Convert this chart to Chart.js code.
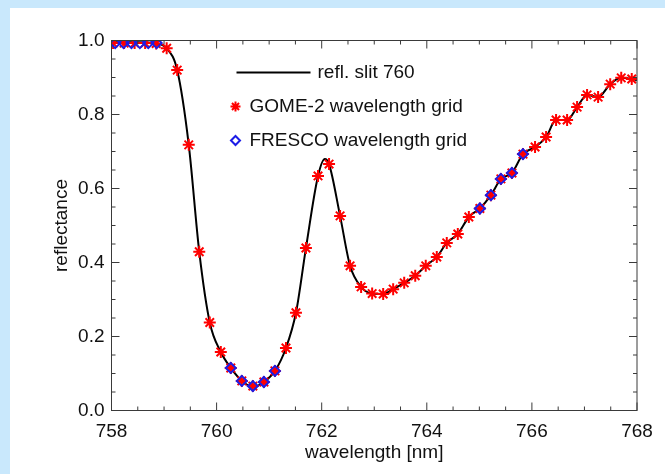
<!DOCTYPE html>
<html>
<head>
<meta charset="utf-8">
<script src="https://cdn.jsdelivr.net/npm/chart.js@4.4.1/dist/chart.umd.min.js"></script>
<style>
  html, body { margin: 0; padding: 0; background: #c9e8fc; width: 665px; height: 474px; overflow: hidden; }
  #panel { position: absolute; left: 10px; top: 8px; width: 655px; height: 466px; background: #fff; }
  canvas { display: block; }
</style>
</head>
<body>
<div id="panel"><canvas id="diagram" width="655" height="466"></canvas></div>
<script>
// GOME-2 wavelength grid (red stars)
const gomeWl = [758.03, 758.24, 758.44, 758.64, 758.85, 759.05, 759.25, 759.47, 759.67, 759.87,
    760.08, 760.27, 760.48, 760.69, 760.90, 761.11, 761.32, 761.51, 761.70, 761.93,
    762.14, 762.35, 762.54, 762.75, 762.96, 763.17, 763.36, 763.57, 763.78, 763.98,
    764.19, 764.38, 764.59, 764.80, 765.01, 765.22, 765.41, 765.62, 765.83, 766.06,
    766.27, 766.46, 766.67, 766.86, 767.05, 767.26, 767.49, 767.70, 767.90];
const gomeRefl = [0.993, 0.993, 0.993, 0.993, 0.992, 0.979, 0.920, 0.718, 0.429, 0.238,
    0.158, 0.115, 0.080, 0.066, 0.077, 0.107, 0.169, 0.264, 0.439, 0.634,
    0.666, 0.526, 0.391, 0.334, 0.316, 0.315, 0.328, 0.345, 0.364, 0.391,
    0.415, 0.453, 0.477, 0.523, 0.546, 0.582, 0.626, 0.642, 0.693, 0.712,
    0.739, 0.785, 0.785, 0.820, 0.853, 0.847, 0.882, 0.899, 0.896];

// FRESCO wavelength grid (blue diamonds)
const frescoWl = [758.07, 758.23, 758.38, 758.54, 758.70, 758.86,
    760.27, 760.48, 760.69, 760.90, 761.11,
    765.01, 765.22, 765.41, 765.62, 765.83];
const frescoRefl = [0.993, 0.993, 0.993, 0.993, 0.993, 0.993,
    0.115, 0.080, 0.066, 0.077, 0.107,
    0.546, 0.582, 0.626, 0.642, 0.693];

// refl. slit 760 (black line)
const slitWl = [758.00, 758.50, 758.85, 759.05, 759.25, 759.47, 759.67, 759.87, 760.08, 760.27,
    760.48, 760.70, 760.90, 761.11, 761.32, 761.51, 761.70, 761.93, 762.06, 762.14,
    762.35, 762.54, 762.75, 762.96, 763.17, 763.36, 763.57, 763.78, 763.98, 764.19,
    764.38, 764.59, 764.80, 765.01, 765.22, 765.41, 765.62, 765.83, 766.06, 766.27,
    766.46, 766.67, 766.86, 767.05, 767.26, 767.49, 767.70, 767.90, 768.00];
const slitRefl = [0.995, 0.995, 0.992, 0.979, 0.920, 0.718, 0.429, 0.238, 0.158, 0.115,
    0.080, 0.064, 0.077, 0.107, 0.169, 0.264, 0.439, 0.634, 0.680, 0.666,
    0.526, 0.391, 0.334, 0.316, 0.315, 0.328, 0.345, 0.364, 0.391, 0.415,
    0.453, 0.477, 0.523, 0.546, 0.582, 0.626, 0.642, 0.693, 0.712, 0.739,
    0.785, 0.785, 0.820, 0.853, 0.847, 0.882, 0.899, 0.896, 0.893];

const xTicks = [758, 760, 762, 764, 766, 768];
const yTicks = [0.0, 0.2, 0.4, 0.6, 0.8, 1.0];
const legendLabels = ['refl. slit 760', 'GOME-2 wavelength grid', 'FRESCO wavelength grid'];

const FONT = "'Liberation Sans', Arial, Helvetica, sans-serif";
const RED = '#ff0000';
const BLUE = '#1c1ce6';

function toPoints(xs, ys) {
    return xs.map((x, i) => ({ x: x, y: ys[i] }));
}

// Frame with inward major/minor ticks on all four sides (IDL look)
const framePlugin = {
    id: 'frame',
    afterDatasetsDraw(chart) {
        const { ctx, chartArea: a, scales } = chart;
        const xs = scales.x, ys = scales.y;
        ctx.save();
        ctx.strokeStyle = '#3a3a3a';
        ctx.lineWidth = 1;
        ctx.strokeRect(a.left, a.top, a.right - a.left, a.bottom - a.top);
        ctx.beginPath();
        for (let v = xs.min; v <= xs.max + 1e-9; v += 0.5) {
            const px = xs.getPixelForValue(v);
            const len = Math.abs(v % 2) < 1e-6 ? 8 : 4;
            ctx.moveTo(px, a.bottom); ctx.lineTo(px, a.bottom - len);
            ctx.moveTo(px, a.top); ctx.lineTo(px, a.top + len);
        }
        for (let i = 0; i <= 20; i++) {
            const v = i * 0.05;
            const py = ys.getPixelForValue(v);
            const len = i % 4 === 0 ? 8 : 4;
            ctx.moveTo(a.left, py); ctx.lineTo(a.left + len, py);
            ctx.moveTo(a.right, py); ctx.lineTo(a.right - len, py);
        }
        ctx.stroke();
        ctx.restore();
    }
};

// Legend drawn inside the plot
const legendPlugin = {
    id: 'innerLegend',
    afterDraw(chart) {
        const { ctx, chartArea: a } = chart;
        const x0 = a.left + 124;
        ctx.save();
        ctx.font = '19px ' + FONT;
        ctx.fillStyle = '#111';
        ctx.textBaseline = 'middle';
        ctx.textAlign = 'left';

        // line entry
        let y = a.top + 32;
        ctx.strokeStyle = '#000';
        ctx.lineWidth = 2;
        ctx.beginPath();
        ctx.moveTo(x0 + 1, y); ctx.lineTo(x0 + 75, y);
        ctx.stroke();
        ctx.fillText(legendLabels[0], x0 + 82, y);

        // star entry
        y = a.top + 66;
        ctx.strokeStyle = RED;
        ctx.fillStyle = RED;
        Chart.helpers.drawPoint(ctx, { pointStyle: 'star', radius: 5, rotation: 0, borderWidth: 2 }, x0, y);
        ctx.fillStyle = '#111';
        ctx.fillText(legendLabels[1], x0 + 14, y);

        // diamond entry
        y = a.top + 100;
        ctx.strokeStyle = BLUE;
        ctx.fillStyle = '#fff';
        ctx.lineWidth = 2;
        Chart.helpers.drawPoint(ctx, { pointStyle: 'rectRot', radius: 4.5, rotation: 0, borderWidth: 2 }, x0, y);
        ctx.fillStyle = '#111';
        ctx.fillText(legendLabels[2], x0 + 14, y);
        ctx.restore();
    }
};

function createChart() {
    const ctx = document.getElementById('diagram').getContext('2d');

    new Chart(ctx, {
        type: 'scatter',
        data: {
            datasets: [
                {
                    label: legendLabels[0],
                    data: toPoints(slitWl, slitRefl),
                    showLine: true,
                    borderColor: '#000',
                    borderWidth: 2,
                    pointRadius: 0,
                    cubicInterpolationMode: 'monotone',
                    order: 3
                },
                {
                    label: legendLabels[1],
                    data: toPoints(gomeWl, gomeRefl),
                    pointStyle: 'star',
                    pointRadius: 6,
                    borderColor: RED,
                    backgroundColor: RED,
                    pointBorderWidth: 2,
                    order: 2
                },
                {
                    label: legendLabels[2],
                    data: toPoints(frescoWl, frescoRefl),
                    pointStyle: 'rectRot',
                    pointRadius: 5,
                    borderColor: BLUE,
                    backgroundColor: 'rgba(0,0,0,0)',
                    pointBorderWidth: 2,
                    order: 1
                }
            ]
        },
        options: {
            responsive: false,
            animation: false,
            layout: { padding: { top: 32.5, right: 28, bottom: 0, left: 0 } },
            plugins: {
                legend: { display: false },
                tooltip: { enabled: false }
            },
            scales: {
                x: {
                    type: 'linear',
                    min: 758,
                    max: 768,
                    afterBuildTicks: scale => { scale.ticks = xTicks.map(v => ({ value: v })); },
                    afterFit: scale => { scale.height = 63.5; },
                    grid: { display: false, drawTicks: false },
                    border: { display: false },
                    ticks: {
                        padding: 10,
                        color: '#111',
                        font: { family: FONT, size: 19 }
                    },
                    title: {
                        display: true,
                        text: 'wavelength [nm]',
                        color: '#111',
                        font: { family: FONT, size: 19 },
                        padding: { top: 0, bottom: 10 }
                    }
                },
                y: {
                    type: 'linear',
                    min: 0,
                    max: 1,
                    afterBuildTicks: scale => { scale.ticks = yTicks.map(v => ({ value: v })); },
                    afterFit: scale => { scale.width = 101.5; },
                    grid: { display: false, drawTicks: false },
                    border: { display: false },
                    ticks: {
                        padding: 7,
                        color: '#111',
                        font: { family: FONT, size: 19 },
                        callback: v => Number(v).toFixed(1)
                    },
                    title: {
                        display: true,
                        text: 'reflectance',
                        color: '#111',
                        font: { family: FONT, size: 19 },
                        padding: { top: 40, bottom: 0 }
                    }
                }
            }
        },
        plugins: [framePlugin, legendPlugin]
    });
}

createChart();
</script>
</body>
</html>
